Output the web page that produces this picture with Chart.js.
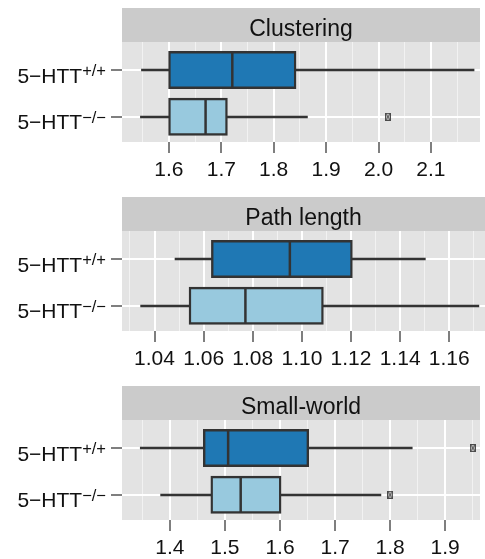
<!DOCTYPE html>
<html>
<head>
<meta charset="utf-8">
<script src="https://cdn.jsdelivr.net/npm/chart.js@4.4.1/dist/chart.umd.min.js"></script>
<style>
  html, body { margin: 0; padding: 0; background: #ffffff; overflow: hidden; }
  #wrap { position: relative; width: 485px; height: 559px; overflow: hidden; }
  .panel { position: absolute; left: 0; width: 485px; height: 188px; }
</style>
</head>
<body>
<div id="wrap">
  <div class="panel" style="top:0px"><canvas id="clustering"></canvas></div>
  <div class="panel" style="top:189px"><canvas id="pathlength"></canvas></div>
  <div class="panel" style="top:378px"><canvas id="smallworld"></canvas></div>
</div>
<script>
// Genotype labels: base text plus superscript
const genotypeBase = '5\u2212HTT';
const genotypeSup = ['+/+', '\u2212/\u2212'];

const panelTitles = ['Clustering', 'Path length', 'Small-world'];

// Clustering coefficient (normalised)
const clusterLow    = [1.547, 1.545];
const clusterQ1     = [1.601, 1.601];
const clusterMedian = [1.721, 1.670];
const clusterQ3     = [1.841, 1.710];
const clusterHigh   = [2.183, 1.865];
const clusterOut    = [[], [2.018]];
const clusterTicks  = ['1.6', '1.7', '1.8', '1.9', '2.0', '2.1'];

// Characteristic path length (normalised)
const pathLow    = [1.0482, 1.0342];
const pathQ1     = [1.0635, 1.0544];
const pathMedian = [1.0951, 1.0770];
const pathQ3     = [1.1202, 1.1084];
const pathHigh   = [1.1504, 1.1722];
const pathOut    = [[], []];
const pathTicks  = ['1.04', '1.06', '1.08', '1.10', '1.12', '1.14', '1.16'];

// Small-world index
const swLow    = [1.3456, 1.3826];
const swQ1     = [1.4623, 1.4759];
const swMedian = [1.5058, 1.5286];
const swQ3     = [1.6506, 1.6004];
const swHigh   = [1.8408, 1.7839];
const swOut    = [[1.9502], [1.8001]];
const swTicks  = ['1.4', '1.5', '1.6', '1.7', '1.8', '1.9'];

const FONT = '"Liberation Sans", Arial, Helvetica, sans-serif';
const boxFills = ['#1f78b4', '#98c9de'];
const LINE = '#333333';

// small boxed-cross glyph used for outlying observations
function outlierGlyph() {
  const c = document.createElement('canvas');
  c.width = 6; c.height = 8;
  const g = c.getContext('2d');
  g.fillStyle = '#bdbdbd';
  g.fillRect(0, 0, 6, 8);
  g.strokeStyle = '#4a4a4a';
  g.lineWidth = 1;
  g.strokeRect(0.5, 0.5, 5, 7);
  g.lineWidth = 0.9;
  g.beginPath();
  g.moveTo(1, 1); g.lineTo(5, 7);
  g.moveTo(5, 1); g.lineTo(1, 7);
  g.stroke();
  return c;
}
const glyph = outlierGlyph();

function makePanel(id, title, s, tickLabels, range) {
  const tickVals = tickLabels.map(Number);
  const step = tickVals[1] - tickVals[0];
  const minorVals = [];
  for (let i = -1; i < tickVals.length; i++) {
    const v = tickVals[0] + (i + 0.5) * step;
    if (v > range[0] && v < range[1]) minorVals.push(v);
  }

  const boxData = genotypeSup.map((_, i) => ({ y: i, x: [s.q1[i], s.q3[i]] }));
  const outData = [];
  s.out.forEach((list, i) => list.forEach(v => outData.push({ x: v, y: i })));

  const decor = {
    id: 'panelDecor',
    beforeDraw(chart) {
      const { ctx, chartArea: a } = chart;
      const stripTop = 8;
      ctx.save();
      ctx.fillStyle = '#e3e3e3';
      ctx.fillRect(a.left, a.top, a.right - a.left, a.bottom - a.top);
      ctx.fillStyle = '#cbcbcb';
      ctx.fillRect(a.left, stripTop, a.right - a.left, a.top - stripTop);
      ctx.fillStyle = '#111111';
      ctx.font = '23px ' + FONT;
      ctx.textAlign = 'center';
      ctx.textBaseline = 'alphabetic';
      ctx.fillText(title, (a.left + a.right) / 2, stripTop + 27.5);
      ctx.restore();
    },
    beforeDatasetsDraw(chart) {
      const { ctx } = chart;
      const xs = chart.scales.x, ys = chart.scales.y;
      ctx.save();
      ctx.strokeStyle = LINE;
      ctx.lineWidth = 2.3;
      ctx.lineCap = 'butt';
      genotypeSup.forEach((_, i) => {
        const y = Math.round(ys.getPixelForValue(i));
        ctx.beginPath();
        ctx.moveTo(xs.getPixelForValue(s.low[i]), y);
        ctx.lineTo(xs.getPixelForValue(s.q1[i]), y);
        ctx.moveTo(xs.getPixelForValue(s.q3[i]), y);
        ctx.lineTo(xs.getPixelForValue(s.high[i]), y);
        ctx.stroke();
      });
      ctx.restore();
    },
    afterDatasetsDraw(chart) {
      const { ctx } = chart;
      const xs = chart.scales.x;
      const meta = chart.getDatasetMeta(0);
      ctx.save();
      ctx.strokeStyle = LINE;
      ctx.lineWidth = 2.5;
      meta.data.forEach((el, i) => {
        const half = el.height / 2;
        const x = xs.getPixelForValue(s.median[i]);
        ctx.beginPath();
        ctx.moveTo(x, el.y - half);
        ctx.lineTo(x, el.y + half);
        ctx.stroke();
      });
      ctx.restore();
    },
    afterDraw(chart) {
      const { ctx, chartArea: a } = chart;
      const ys = chart.scales.y;
      const right = a.left - 16;
      ctx.save();
      ctx.fillStyle = '#111111';
      ctx.textAlign = 'left';
      ctx.textBaseline = 'alphabetic';
      genotypeSup.forEach((sup, i) => {
        const y = ys.getPixelForValue(i);
        ctx.font = '16.5px ' + FONT;
        const supW = ctx.measureText(sup).width;
        ctx.font = '21px ' + FONT;
        const baseW = ctx.measureText(genotypeBase).width;
        const x0 = right - supW - baseW;
        ctx.fillText(genotypeBase, x0, y + 12.5);
        ctx.font = '16.5px ' + FONT;
        ctx.fillText(sup, x0 + baseW, y + 6);
      });
      ctx.restore();
    }
  };

  return new Chart(document.getElementById(id), {
    type: 'bar',
    data: {
      datasets: [
        {
          type: 'bar',
          data: boxData,
          xAxisID: 'x',
          yAxisID: 'y',
          backgroundColor: boxFills,
          borderColor: LINE,
          borderWidth: 2.4,
          borderSkipped: false,
          inflateAmount: 1.2,
          categoryPercentage: 1,
          barPercentage: 0.76
        },
        {
          type: 'scatter',
          data: outData,
          xAxisID: 'x',
          yAxisID: 'y',
          pointStyle: glyph,
          pointRadius: 3,
          order: -1
        }
      ]
    },
    options: {
      indexAxis: 'y',
      responsive: true,
      maintainAspectRatio: false,
      animation: false,
      events: [],
      layout: { padding: { top: 42, left: 0, right: 0, bottom: 0 } },
      plugins: { legend: { display: false }, tooltip: { enabled: false }, title: { display: false } },
      scales: {
        x: {
          type: 'linear',
          axis: 'x',
          position: 'bottom',
          min: range[0],
          max: range[1],
          beginAtZero: false,
          offset: false,
          afterBuildTicks: (sc) => { sc.ticks = tickVals.map(v => ({ value: v })); },
          afterFit: (sc) => { sc.height = 46; },
          grid: { color: '#ffffff', lineWidth: 2, drawTicks: true, tickLength: 11, tickColor: '#7f7f7f', tickWidth: 2, z: -1, offset: false },
          border: { display: false },
          ticks: {
            callback: (v, i) => tickLabels[i],
            color: '#111111',
            font: { family: FONT, size: 21 },
            padding: 5,
            maxRotation: 0,
            autoSkip: false
          }
        },
        xm: {
          type: 'linear',
          axis: 'x',
          position: 'bottom',
          min: range[0],
          max: range[1],
          beginAtZero: false,
          afterBuildTicks: (sc) => { sc.ticks = minorVals.map(v => ({ value: v })); },
          afterFit: (sc) => { sc.height = 0; },
          grid: { color: '#f2f2f2', lineWidth: 1, drawTicks: false, z: -2 },
          border: { display: false },
          ticks: { display: false }
        },
        y: {
          type: 'linear',
          axis: 'y',
          position: 'left',
          min: -0.6,
          max: 1.54,
          reverse: true,
          offset: false,
          beginAtZero: false,
          afterBuildTicks: (sc) => { sc.ticks = genotypeSup.map((_, i) => ({ value: i })); },
          afterFit: (sc) => { sc.width = 122; },
          grid: { color: '#ffffff', lineWidth: 2, drawTicks: true, tickLength: 11, tickColor: '#7f7f7f', tickWidth: 2, z: -1, offset: false },
          border: { display: false },
          ticks: { display: false }
        }
      }
    },
    plugins: [decor]
  });
}

makePanel('clustering', panelTitles[0],
  { low: clusterLow, q1: clusterQ1, median: clusterMedian, q3: clusterQ3, high: clusterHigh, out: clusterOut },
  clusterTicks, [1.5105, 2.1937]);

makePanel('pathlength', panelTitles[1],
  { low: pathLow, q1: pathQ1, median: pathMedian, q3: pathQ3, high: pathHigh, out: pathOut },
  pathTicks, [1.02675, 1.17456]);

makePanel('smallworld', panelTitles[2],
  { low: swLow, q1: swQ1, median: swMedian, q3: swQ3, high: swHigh, out: swOut },
  swTicks, [1.313, 1.9633]);
</script>
</body>
</html>
